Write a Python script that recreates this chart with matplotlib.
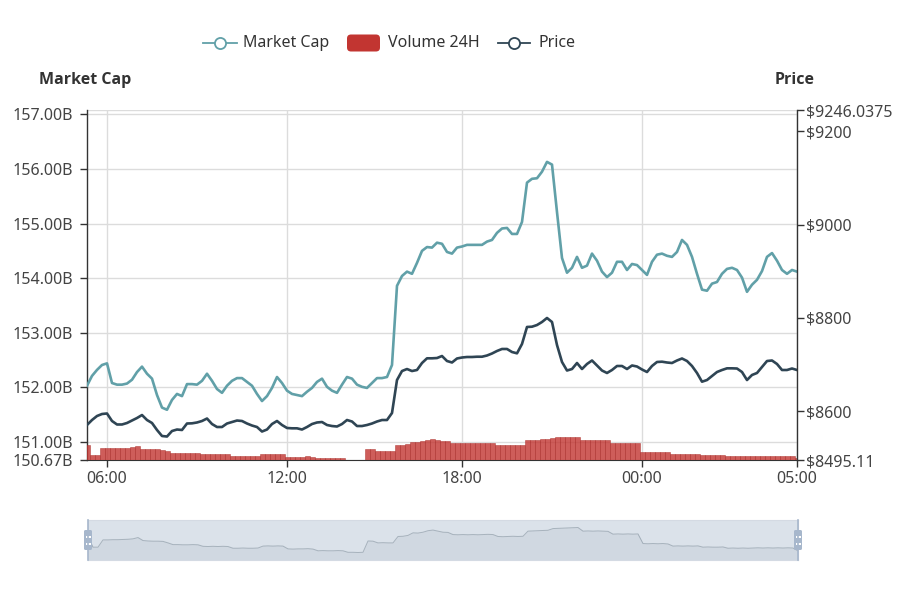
"""
Market cap / 24h volume / price over one day, echarts-style layout.
Saves out.png (900x592).
"""

import numpy as np
import matplotlib
matplotlib.use("Agg")
import matplotlib.pyplot as plt
from matplotlib.lines import Line2D
from matplotlib.patches import FancyBboxPatch, Rectangle
from matplotlib.transforms import IdentityTransform

plt.rcParams["font.family"] = ["Noto Sans", "DejaVu Sans"]
BOLD_FAMILY = ["Open Sans", "Roboto", "DejaVu Sans"]

TEAL = "#61a0a8"
NAVY = "#2f4554"
RED = "#c23531"
TEXT = "#333333"
LABEL = "#444444"
GRID = "#dcdcdc"

W, H = 900, 592

# time axis (category, 10 min steps from 05:20 to 05:00 next day)
time_tick_idx = [4, 40, 75, 111, 142]
time_tick_labels = ["06:00", "12:00", "18:00", "00:00", "05:00"]

# market cap, billions USD
market_cap = [
    152.03, 152.21, 152.32, 152.41, 152.44, 152.08, 152.05, 152.05, 152.07, 152.14,
    152.28, 152.38, 152.25, 152.16, 151.86, 151.63, 151.59, 151.77, 151.88, 151.84,
    152.06, 152.06, 152.05, 152.12, 152.25, 152.12, 151.97, 151.90, 152.03, 152.12,
    152.17, 152.17, 152.10, 152.03, 151.88, 151.75, 151.84, 151.99, 152.19, 152.08,
    151.94, 151.88, 151.86, 151.84, 151.92, 151.99, 152.10, 152.16, 152.01, 151.94,
    151.90, 152.05, 152.19, 152.16, 152.05, 152.01, 151.99, 152.08, 152.17, 152.17,
    152.19, 152.41, 153.86, 154.04, 154.12, 154.08, 154.28, 154.50, 154.57, 154.56,
    154.65, 154.63, 154.48, 154.45, 154.56, 154.58, 154.61, 154.61, 154.61, 154.61,
    154.67, 154.70, 154.83, 154.91, 154.92, 154.81, 154.81, 155.03, 155.75, 155.82,
    155.83, 155.95, 156.13, 156.08, 155.21, 154.37, 154.10, 154.19, 154.39, 154.19,
    154.23, 154.45, 154.32, 154.12, 154.02, 154.10, 154.30, 154.30, 154.15, 154.26,
    154.24, 154.15, 154.06, 154.30, 154.43, 154.45, 154.41, 154.39, 154.48, 154.70,
    154.61, 154.39, 154.08, 153.79, 153.77, 153.90, 153.93, 154.08, 154.17, 154.19,
    154.15, 154.01, 153.75, 153.88, 153.97, 154.13, 154.39, 154.46, 154.32, 154.15,
    154.08, 154.15, 154.12,
]

# price, USD
price = [
    8570.2, 8580.9, 8589.5, 8593.8, 8594.9, 8578.8, 8571.3, 8571.3, 8574.5, 8579.8,
    8585.2, 8591.6, 8580.9, 8574.5, 8559.5, 8546.6, 8545.5, 8557.3, 8560.5, 8559.5,
    8573.4, 8573.8, 8575.6, 8578.8, 8584.1, 8572.3, 8565.9, 8565.9, 8573.4, 8576.6,
    8579.8, 8578.8, 8573.4, 8569.1, 8565.9, 8556.2, 8560.5, 8572.3, 8578.8, 8570.2,
    8563.8, 8563.1, 8563.1, 8560.5, 8565.9, 8572.3, 8575.6, 8576.6, 8570.2, 8568.0,
    8567.0, 8572.3, 8580.9, 8577.7, 8568.0, 8568.0, 8570.2, 8573.4, 8577.7, 8580.9,
    8580.9, 8595.9, 8666.7, 8686.0, 8690.3, 8686.0, 8688.2, 8703.2, 8713.3, 8713.3,
    8713.9, 8718.2, 8707.5, 8704.3, 8712.9, 8715.0, 8716.1, 8716.1, 8716.7, 8716.7,
    8719.3, 8723.6, 8729.0, 8733.3, 8733.3, 8726.8, 8724.0, 8744.0, 8780.5, 8781.1,
    8784.7, 8791.2, 8799.8, 8791.2, 8741.8, 8705.4, 8687.1, 8690.3, 8703.2, 8690.3,
    8701.1, 8708.6, 8697.9, 8687.1, 8681.8, 8688.2, 8696.8, 8696.8, 8690.3, 8697.9,
    8695.7, 8689.3, 8683.9, 8696.8, 8705.4, 8706.0, 8704.3, 8703.2, 8708.6, 8712.9,
    8707.5, 8696.8, 8681.8, 8663.1, 8666.7, 8675.3, 8683.9, 8688.2, 8691.8, 8691.8,
    8691.4, 8683.9, 8666.7, 8677.5, 8681.8, 8694.6, 8707.5, 8708.6, 8701.1, 8688.2,
    8688.2, 8691.4, 8688.2,
]

# 24h volume, billions USD
volume = [
    33.5, 28.5, 28.5, 31.9, 31.9, 32.0, 32.0, 32.1, 32.2, 32.4,
    33.0, 31.6, 31.4, 31.3, 31.3, 31.2, 30.5, 29.7, 29.7, 29.6,
    29.6, 29.7, 29.6, 28.9, 28.8, 28.9, 28.8, 28.9, 28.8, 28.0,
    28.0, 28.1, 28.0, 28.0, 28.1, 29.0, 29.1, 29.0, 29.1, 29.0,
    27.7, 27.6, 27.7, 27.7, 27.8, 27.6, 26.8, 26.9, 26.8, 26.8,
    26.9, 26.8, 26.1, 26.1, 26.0, 26.1, 31.4, 31.3, 30.5, 30.6,
    30.5, 30.5, 33.5, 33.6, 34.0, 35.2, 35.1, 35.5, 36.2, 36.5,
    36.0, 35.5, 35.4, 34.4, 34.3, 34.4, 34.3, 34.4, 34.3, 34.4,
    34.5, 34.4, 33.5, 33.4, 33.5, 33.6, 33.5, 33.6, 36.0, 36.1,
    36.2, 36.3, 36.4, 37.2, 37.3, 37.4, 37.5, 37.6, 37.7, 36.0,
    36.1, 36.0, 36.1, 36.0, 35.9, 34.6, 34.7, 34.6, 34.7, 34.6,
    34.7, 30.2, 30.1, 30.2, 30.1, 30.2, 30.0, 29.0, 29.1, 29.0,
    29.1, 29.0, 29.1, 28.5, 28.6, 28.5, 28.5, 28.6, 28.0, 28.1,
    28.0, 28.1, 28.0, 28.1, 28.2, 28.1, 28.2, 28.1, 28.2, 28.1,
    28.2, 28.1, 26.8,
]

cap_ticks = [150.67, 151, 152, 153, 154, 155, 156, 157]
cap_range = (150.67, 157.08)
price_ticks = [8495.11, 8600, 8800, 9000, 9200, 9246.0375]
price_tick_labels = ["$8495.11", "$8600", "$8800", "$9000", "$9200", "$9246.0375"]
price_range = (8495.11, 9246.0375)
volume_range = (26.0, 201.0)


def style_axis(ax, side, pad=2.9):
    for s in ax.spines.values():
        s.set_visible(False)
    ax.tick_params(axis="y", which="both", left=False, right=False,
                   labelleft=False, labelright=False)
    ax.tick_params(axis="x", bottom=False, labelbottom=False)
    if side is None:
        return
    ax.spines[side].set_visible(True)
    ax.spines[side].set_color(TEXT)
    ax.spines[side].set_linewidth(1.0)
    ax.tick_params(axis="y", direction="out", length=4.8, width=1.0, color=TEXT,
                   labelsize=11.5, labelcolor=LABEL, pad=pad,
                   **{side: True, "label" + side: True})


def draw_legend(fig):
    tr = IdentityTransform()
    yc = H - 43

    def line_icon(x0, x1, color):
        fig.add_artist(Line2D([x0, x1], [yc, yc], color=color, lw=1.3, transform=tr))
        fig.add_artist(Line2D([(x0 + x1) / 2], [yc], marker="o", markersize=8.0,
                              markerfacecolor="white", markeredgecolor=color,
                              markeredgewidth=1.3, transform=tr))

    line_icon(203, 237, TEAL)
    fig.text(243 / W, yc / H, "Market Cap", ha="left", va="center",
             fontsize=11.5, color=TEXT)

    fig.add_artist(FancyBboxPatch((347, yc - 8.5), 33, 17,
                                  boxstyle="round,pad=0,rounding_size=4",
                                  facecolor=RED, edgecolor="none", transform=tr))
    fig.text(388 / W, yc / H, "Volume 24H", ha="left", va="center",
             fontsize=11.5, color=TEXT)

    line_icon(498, 530, NAVY)
    fig.text(538 / W, yc / H, "Price", ha="left", va="center",
             fontsize=11.5, color=TEXT)


def draw_slider(fig, x):
    sl = fig.add_axes([88 / W, 1 - 560 / H, 710 / W, 40 / H])
    lo, hi = min(volume), max(volume)
    pad = (hi - lo) * 0.3
    sl.set_xlim(x[0], x[-1])
    sl.set_ylim(lo - pad, hi + pad)
    sl.fill_between(x, volume, lo - pad, color=NAVY, alpha=0.09, lw=0)
    sl.plot(x, volume, color=NAVY, alpha=0.3, lw=0.7)
    sl.add_patch(Rectangle((0, 0), 1, 1, transform=sl.transAxes,
                           facecolor=(167 / 255, 183 / 255, 204 / 255, 0.4),
                           edgecolor="none"))
    sl.set_xticks([])
    sl.set_yticks([])
    for s in sl.spines.values():
        s.set_color("#d4dae3")
        s.set_linewidth(0.8)

    tr = IdentityTransform()
    for hx in (88, 798):
        fig.add_artist(Line2D([hx, hx], [H - 520, H - 560], color="#a7b7cc",
                              lw=1.2, transform=tr))
        fig.add_artist(FancyBboxPatch((hx - 4, H - 550), 8, 20,
                                      boxstyle="round,pad=0,rounding_size=1.5",
                                      facecolor="#a7b7cc", edgecolor="none",
                                      transform=tr))
        for wy in (536.5, 543.5):
            fig.add_artist(Rectangle((hx - 2.5, H - wy - 1), 5, 2,
                                     facecolor="white", edgecolor="none",
                                     transform=tr))


def main():
    fig = plt.figure(figsize=(W / 100, H / 100), dpi=100)
    ax = fig.add_axes([87 / W, 1 - 460 / H, 710 / W, 350 / H])
    ax_v = ax.twinx()
    ax_p = ax.twinx()

    x = np.arange(len(market_cap))

    # grid on the market cap axis
    ax.set_xlim(x[0], x[-1])
    ax.set_ylim(*cap_range)
    ax.set_yticks(cap_ticks)
    ax.set_yticklabels([f"{v:.2f}B" for v in cap_ticks])
    ax.set_xticks(time_tick_idx)
    ax.set_xticklabels(time_tick_labels)
    ax.grid(True, color=GRID, lw=1.0)
    ax.axhline(cap_range[1], color=GRID, lw=1.0)
    ax.set_axisbelow(True)

    style_axis(ax, "left", pad=5.5)
    ax.spines["bottom"].set_visible(True)
    ax.spines["bottom"].set_color(TEXT)
    ax.tick_params(axis="x", bottom=True, labelbottom=True, direction="out",
                   length=4.8, width=1.0, color=TEXT, labelsize=11.5,
                   labelcolor=LABEL, pad=2.9)

    # volume bars on a hidden axis
    ax_v.bar(x, volume, width=1.0, color=RED, alpha=0.8,
             edgecolor="#a82a27", linewidth=0.4)
    ax_v.set_ylim(*volume_range)
    style_axis(ax_v, None)

    ax.plot(x, market_cap, color=TEAL, lw=1.9, solid_joinstyle="round", zorder=3)

    ax_p.plot(x, price, color=NAVY, lw=1.9, solid_joinstyle="round")
    ax_p.set_ylim(*price_range)
    ax_p.set_yticks(price_ticks)
    ax_p.set_yticklabels(price_tick_labels)
    style_axis(ax_p, "right", pad=1.5)
    ax_p.set_xlim(x[0], x[-1])

    fig.text(85 / W, 1 - 80 / H, "Market Cap", ha="center", va="center",
             fontsize=11.5, fontweight="bold", family=BOLD_FAMILY, color=TEXT)
    fig.text(795 / W, 1 - 80 / H, "Price", ha="center", va="center",
             fontsize=11.5, fontweight="bold", family=BOLD_FAMILY, color=TEXT)

    draw_legend(fig)
    draw_slider(fig, x)

    fig.savefig("out.png", dpi=100, facecolor="white")
    plt.close(fig)


if __name__ == "__main__":
    main()
